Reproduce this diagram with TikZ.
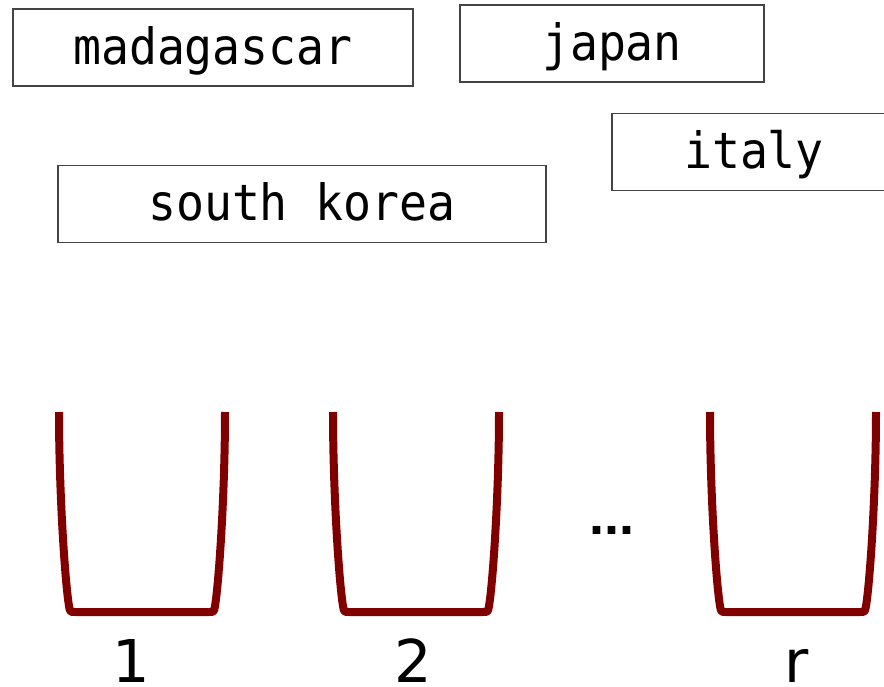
\documentclass[tikz,border=0pt]{standalone}
\usepackage{fontspec}
\newfontfamily\boxfont[FakeStretch=0.93]{DejaVu Sans Mono}
\newfontfamily\dotfont{Liberation Sans}
\newfontfamily\lblfont{DejaVu Sans}
\definecolor{boxline}{RGB}{68,68,68}
\definecolor{bucketred}{RGB}{128,0,0}
\begin{document}
\begin{tikzpicture}[x=1pt,y=-1pt,
  country/.style={draw=boxline,line width=1.4pt,inner sep=0pt,
    minimum height=77pt,text height=40pt,text depth=6pt,
    font=\boxfont\fontsize{50}{56}\selectfont},
  bucketlbl/.style={anchor=base,inner sep=0pt,text depth=0pt,font=\lblfont\fontsize{59}{64}\selectfont},
  pics/bucket/.style={code={
    \draw[bucketred,line width=8pt,line cap=butt,line join=round]
      (0,0) .. controls (0,80) and (6,170) .. (10,194)
      .. controls (11,200) .. (16,200) -- (150,200)
      .. controls (155,200) .. (156,194)
      .. controls (160,170) and (166,80) .. (166,0);
  }}]
\useasboundingbox (0,0) rectangle (884,687);
\begin{scope}
\clip (0,0) rectangle (884,687);
\node[country,minimum width=400pt] (mad) at (213,47.5) {madagascar};
\node[country,minimum width=304pt] (jap) at (612,43.5) {japan};
\node[country,minimum width=284pt] (ita) at (754,152) {italy};
\node[country,minimum width=488pt] (sko) at (302,204) {south korea};
\pic at (59,412) {bucket};
\pic at (333,412) {bucket};
\pic at (710,412) {bucket};
\end{scope}
\node[anchor=base,inner sep=0pt,font=\dotfont\bfseries\fontsize{54}{56}\selectfont] (dots) at (612,534) {...};
\node[bucketlbl] (l1) at (131,682) {1};
\node[bucketlbl] (l2) at (413,682) {2};
\node[bucketlbl] (lr) at (797,682) {r};
\end{tikzpicture}
\end{document}
